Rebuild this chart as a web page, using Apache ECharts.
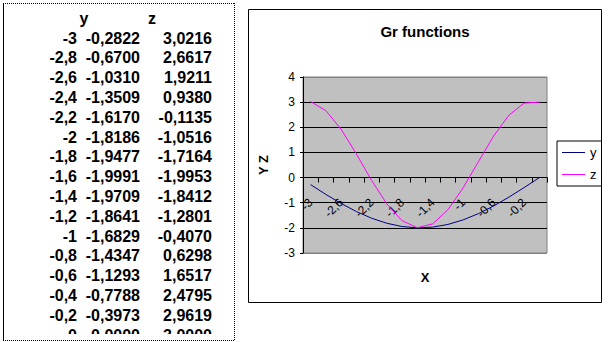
<!DOCTYPE html>
<html>
<head>
<meta charset="utf-8">
<script src="https://cdn.jsdelivr.net/npm/echarts@6/dist/echarts.min.js"></script>
<style>
html,body{margin:0;padding:0;background:#fff;}
#main{width:608px;height:342px;}
</style>
</head>
<body>
<div id="main"></div>
<script>
// ---- data ----
var xLabels = ['-3','-2,8','-2,6','-2,4','-2,2','-2','-1,8','-1,6','-1,4','-1,2','-1','-0,8','-0,6','-0,4','-0,2','0'];
var yValues = [-0.2822,-0.6700,-1.0310,-1.3509,-1.6170,-1.8186,-1.9477,-1.9991,-1.9709,-1.8641,-1.6829,-1.4347,-1.1293,-0.7788,-0.3973,0.0000];
var zValues = [3.0216,2.6617,1.9211,0.9380,-0.1135,-1.0516,-1.7164,-1.9953,-1.8412,-1.2801,-0.4070,0.6298,1.6517,2.4795,2.9619,3.0000];
var tableHeaders = ['y','z'];
var chartTitle = 'Gr functions';
var xName = 'X';
var yName = 'Y Z';
var yMin = -3, yMax = 4;

function fmt(v){ return v.toFixed(4).replace('.', ','); }

var chart = echarts.init(document.getElementById('main'), null, {renderer:'svg'});

var FONT = 'Liberation Sans, Arial, sans-serif';
var gridTop = 77, gridBottom = 89, H = 342;
var plotH = H - gridTop - gridBottom;
// offset to put the category axis on y = 0
var zeroOffset = -plotH * (0 - yMin) / (yMax - yMin);

var graphics = [];
graphics.push({type:'text', x:84, y:18, style:{text:tableHeaders[0], font:'bold 16px '+FONT, fill:'#000', textAlign:'center', textVerticalAlign:'middle'}, z:10});
graphics.push({type:'text', x:152, y:18, style:{text:tableHeaders[1], font:'bold 16px '+FONT, fill:'#000', textAlign:'center', textVerticalAlign:'middle'}, z:10});
for (var i=0;i<xLabels.length;i++){
  var cy = 38 + i*19.8;
  graphics.push({type:'text', x:77, y:cy, style:{text:xLabels[i], font:'bold 16px '+FONT, fill:'#000', textAlign:'right', textVerticalAlign:'middle'}, z:10});
  graphics.push({type:'text', x:140, y:cy, style:{text:fmt(yValues[i]), font:'bold 16px '+FONT, fill:'#000', textAlign:'right', textVerticalAlign:'middle'}, z:10});
  graphics.push({type:'text', x:212, y:cy, style:{text:fmt(zValues[i]), font:'bold 16px '+FONT, fill:'#000', textAlign:'right', textVerticalAlign:'middle'}, z:10});
}
graphics.push({type:'rect', shape:{x:0, y:334, width:240, height:8}, style:{fill:'#fff'}, z:11});
graphics.push({type:'line', shape:{x1:3.5, y1:3, x2:3.5, y2:340}, style:{stroke:'#000', lineWidth:1}, z:12});
graphics.push({type:'line', shape:{x1:3, y1:3.5, x2:234, y2:3.5}, style:{stroke:'#000', lineWidth:1, lineDash:[1,1]}, z:12});
graphics.push({type:'line', shape:{x1:234.5, y1:3, x2:234.5, y2:340}, style:{stroke:'#000', lineWidth:1, lineDash:[1,1]}, z:12});
graphics.push({type:'line', shape:{x1:3, y1:340.5, x2:234, y2:340.5}, style:{stroke:'#000', lineWidth:1, lineDash:[1,1]}, z:12});
graphics.push({type:'rect', shape:{x:248.5, y:9.5, width:353, height:293}, style:{fill:'none', stroke:'#000', lineWidth:1}, z:0});
graphics.push({type:'text', x:425, y:31, style:{text:chartTitle, font:'bold 15px '+FONT, fill:'#000', textAlign:'center', textVerticalAlign:'middle'}, z:10});
graphics.push({type:'text', x:425, y:277, style:{text:xName, font:'bold 13px '+FONT, fill:'#000', textAlign:'center', textVerticalAlign:'middle'}, z:10});

var option = {
  animation:false,
  backgroundColor:'#fff',
  textStyle:{fontFamily:FONT},
  grid:{left:303, right:61, top:gridTop, bottom:gridBottom, show:true, backgroundColor:'#C0C0C0', borderColor:'#808080', borderWidth:1, containLabel:false},
  legend:{
    orient:'vertical', left:557, top:141, width:40,
    padding:[5,5,5,5], itemGap:9, itemWidth:23, itemHeight:1,
    borderColor:'#000', borderWidth:1, backgroundColor:'#fff',
    textStyle:{fontSize:13, color:'#000', fontFamily:FONT},
    data:[{name:'y', icon:'rect'},{name:'z', icon:'rect'}]
  },
  xAxis:{
    type:'category', data:xLabels, boundaryGap:true, position:'bottom', offset:zeroOffset,
    axisLine:{onZero:false, lineStyle:{color:'#000', width:1}},
    axisTick:{show:true, interval:0, length:5, lineStyle:{color:'#000'}},
    axisLabel:{interval:1, rotate:45, margin:23, fontSize:12, color:'#000', fontFamily:FONT},
    splitLine:{show:false}
  },
  yAxis:{
    type:'value', min:yMin, max:yMax, interval:1,
    name:yName, nameLocation:'middle', nameGap:33, nameRotate:90,
    nameTextStyle:{fontWeight:'bold', fontSize:13, color:'#000', fontFamily:FONT},
    axisLine:{show:true, lineStyle:{color:'#000'}},
    axisTick:{show:true, length:3, lineStyle:{color:'#000'}},
    axisLabel:{fontSize:12, color:'#000', margin:8, fontFamily:FONT},
    splitLine:{show:true, lineStyle:{color:['#808080','#000','#000','#000','#000','#000','#000','#808080'], width:1}}
  },
  series:[
    {name:'y', type:'line', data:yValues, showSymbol:false, symbol:'none', color:'#000080', lineStyle:{color:'#000080', width:1}, z:3},
    {name:'z', type:'line', data:zValues, showSymbol:false, symbol:'none', color:'#FF00FF', lineStyle:{color:'#FF00FF', width:1}, z:4}
  ],
  graphic:graphics
};
chart.setOption(option);
</script>
</body>
</html>
